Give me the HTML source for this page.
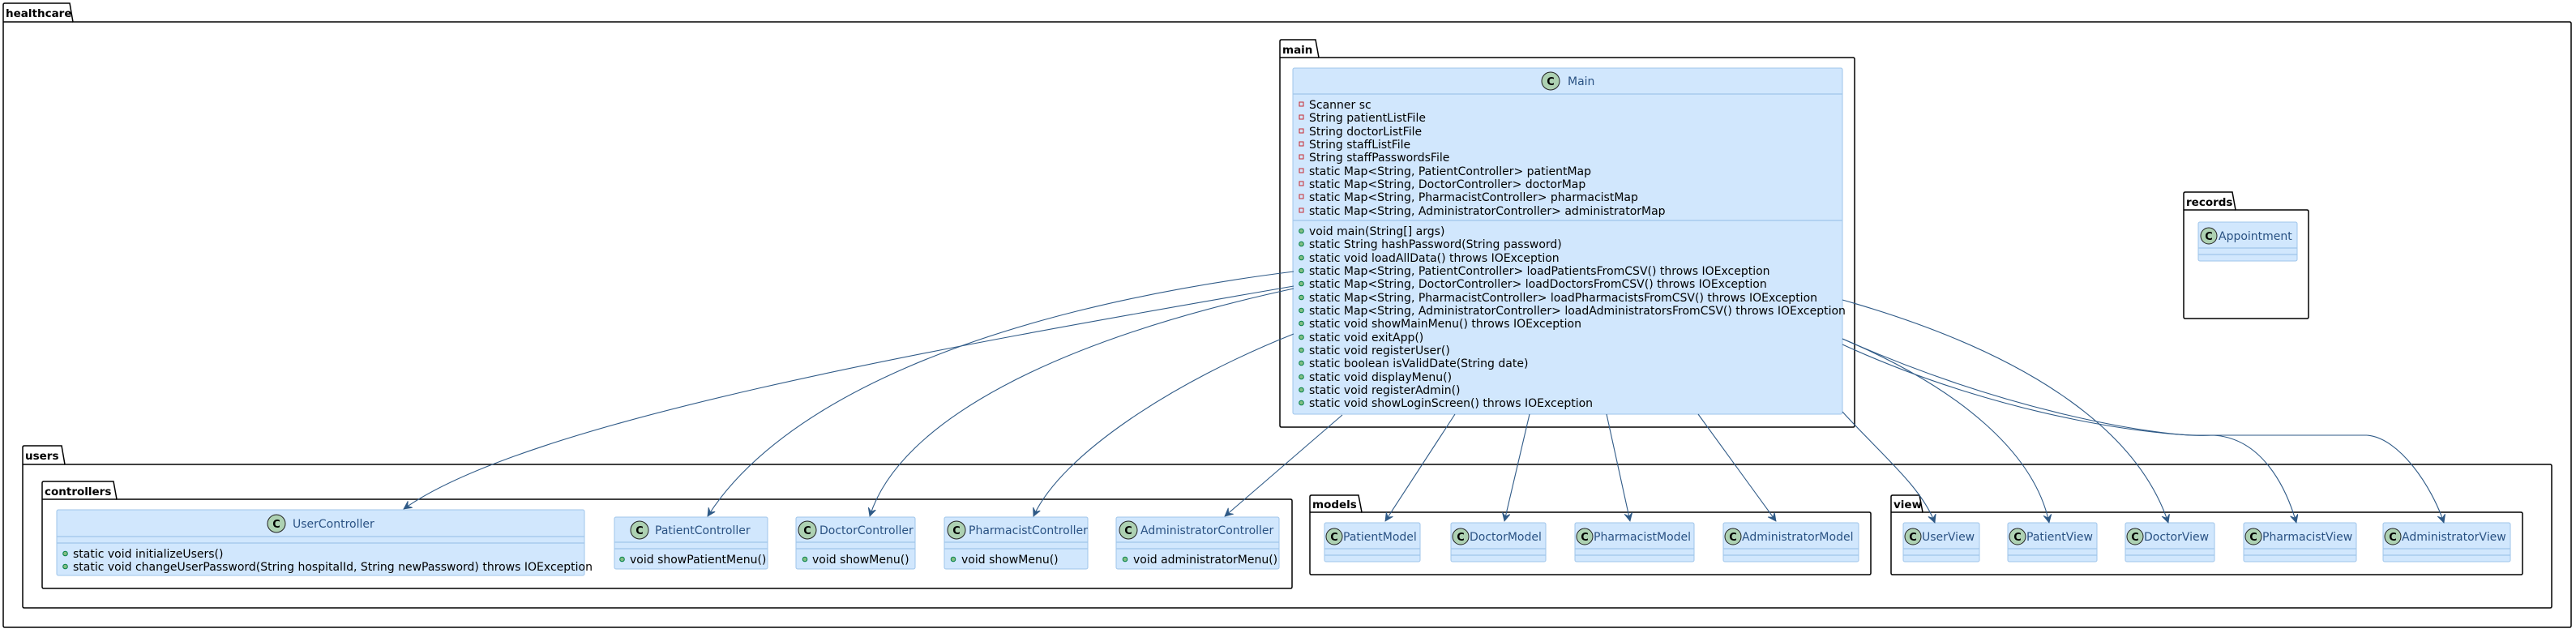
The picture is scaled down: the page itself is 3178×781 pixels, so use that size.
<!DOCTYPE html>
<html><head><meta charset="utf-8"><style>
html,body{margin:0;padding:0;background:#fff;}
svg{display:block;}
text{font-family:"DejaVu Sans","Liberation Sans",sans-serif;}
.pk{font-weight:bold;font-size:13.5px;fill:#000;}
.cn{font-size:14px;fill:#2a5283;}
.t{font-size:14px;fill:#000;}
.box{fill:#d1e7fd;stroke:#9fc5ea;stroke-width:1;}
.sep{stroke:#9fc5ea;stroke-width:1.2;}
.pkg{fill:none;stroke:#000;stroke-width:1.5;}
.ar{fill:none;stroke:#2f5a87;stroke-width:1.1;}
.ci{fill:#add1b2;stroke:#222;stroke-width:1;}
.cl{font-weight:bold;font-size:13px;fill:#000;}
.pr{fill:none;stroke:#c82930;stroke-width:1;}
.pu{fill:#84be84;stroke:#038048;stroke-width:1;}
</style></head><body>
<svg width="3178" height="781" viewBox="0 0 3178 781" xmlns="http://www.w3.org/2000/svg">
<defs>
<marker id="ah" markerWidth="12" markerHeight="12" refX="10" refY="5" orient="auto" markerUnits="userSpaceOnUse">
<path d="M0,0 L10,5 L0,10 L4,5 Z" fill="#2f5a87" stroke="#2f5a87" stroke-width="0.8"/>
</marker>
</defs>

<!-- healthcare -->
<path class="pkg" d="M4,27 L4,6 Q4,4 6,4 L86,4 L90,27 L3170,27 Q3172,27 3172,29 L3172,772 Q3172,774 3170,774 L6,774 Q4,774 4,772 Z"/>
<line class="pkg" x1="4" y1="27" x2="90" y2="27"/>
<text class="pk" x="7" y="21">healthcare</text>

<!-- main pkg -->
<path class="pkg" d="M1579,71 L1579,51 Q1579,49 1581,49 L1623,49 L1627,71 L2286,71 Q2288,71 2288,73 L2288,525 Q2288,527 2286,527 L1581,527 Q1579,527 1579,525 Z"/>
<line class="pkg" x1="1579" y1="71" x2="1627" y2="71"/>
<text class="pk" x="1582" y="66">main</text>

<!-- Main class -->
<rect class="box" x="1595" y="84" width="678" height="427" rx="2"/>
<line class="sep" x1="1595" y1="116" x2="2273" y2="116"/>
<line class="sep" x1="1595" y1="272" x2="2273" y2="272"/>
<circle class="ci" cx="1913" cy="100" r="11"/>
<text class="cl" x="1913" y="105" text-anchor="middle">C</text>
<text class="cn" x="1934" y="105">Main</text>
<g>
<rect class="pr" x="1603" y="126" width="5" height="5"/><text class="t" x="1615" y="134">Scanner sc</text>
<rect class="pr" x="1603" y="142" width="5" height="5"/><text class="t" x="1615" y="150">String patientListFile</text>
<rect class="pr" x="1603" y="159" width="5" height="5"/><text class="t" x="1615" y="167">String doctorListFile</text>
<rect class="pr" x="1603" y="175" width="5" height="5"/><text class="t" x="1615" y="183">String staffListFile</text>
<rect class="pr" x="1603" y="191" width="5" height="5"/><text class="t" x="1615" y="199">String staffPasswordsFile</text>
<rect class="pr" x="1603" y="208" width="5" height="5"/><text class="t" x="1615" y="216">static Map&lt;String, PatientController&gt; patientMap</text>
<rect class="pr" x="1603" y="224" width="5" height="5"/><text class="t" x="1615" y="232">static Map&lt;String, DoctorController&gt; doctorMap</text>
<rect class="pr" x="1603" y="240" width="5" height="5"/><text class="t" x="1615" y="248">static Map&lt;String, PharmacistController&gt; pharmacistMap</text>
<rect class="pr" x="1603" y="257" width="5" height="5"/><text class="t" x="1615" y="265">static Map&lt;String, AdministratorController&gt; administratorMap</text>
</g>
<g>
<circle class="pu" cx="1605.5" cy="285" r="2.8"/><text class="t" x="1615" y="290">void main(String[] args)</text>
<circle class="pu" cx="1605.5" cy="301" r="2.8"/><text class="t" x="1615" y="306">static String hashPassword(String password)</text>
<circle class="pu" cx="1605.5" cy="318" r="2.8"/><text class="t" x="1615" y="323">static void loadAllData() throws IOException</text>
<circle class="pu" cx="1605.5" cy="334" r="2.8"/><text class="t" x="1615" y="339">static Map&lt;String, PatientController&gt; loadPatientsFromCSV() throws IOException</text>
<circle class="pu" cx="1605.5" cy="350" r="2.8"/><text class="t" x="1615" y="355">static Map&lt;String, DoctorController&gt; loadDoctorsFromCSV() throws IOException</text>
<circle class="pu" cx="1605.5" cy="367" r="2.8"/><text class="t" x="1615" y="372">static Map&lt;String, PharmacistController&gt; loadPharmacistsFromCSV() throws IOException</text>
<circle class="pu" cx="1605.5" cy="383" r="2.8"/><text class="t" x="1615" y="388">static Map&lt;String, AdministratorController&gt; loadAdministratorsFromCSV() throws IOException</text>
<circle class="pu" cx="1605.5" cy="399" r="2.8"/><text class="t" x="1615" y="404">static void showMainMenu() throws IOException</text>
<circle class="pu" cx="1605.5" cy="416" r="2.8"/><text class="t" x="1615" y="421">static void exitApp()</text>
<circle class="pu" cx="1605.5" cy="432" r="2.8"/><text class="t" x="1615" y="437">static void registerUser()</text>
<circle class="pu" cx="1605.5" cy="448" r="2.8"/><text class="t" x="1615" y="453">static boolean isValidDate(String date)</text>
<circle class="pu" cx="1605.5" cy="465" r="2.8"/><text class="t" x="1615" y="470">static void displayMenu()</text>
<circle class="pu" cx="1605.5" cy="481" r="2.8"/><text class="t" x="1615" y="486">static void registerAdmin()</text>
<circle class="pu" cx="1605.5" cy="497" r="2.8"/><text class="t" x="1615" y="502">static void showLoginScreen() throws IOException</text>
</g>

<!-- records -->
<path class="pkg" d="M2694,259 L2694,239 Q2694,237 2696,237 L2754,237 L2758,259 L2846,259 Q2848,259 2848,261 L2848,391 Q2848,393 2846,393 L2696,393 Q2694,393 2694,391 Z"/>
<line class="pkg" x1="2694" y1="259" x2="2758" y2="259"/>
<text class="pk" x="2697" y="254">records</text>
<rect class="box" x="2712" y="274" width="122" height="48" rx="2"/>
<line class="sep" x1="2712" y1="306" x2="2834" y2="306"/>
<line class="sep" x1="2712" y1="314" x2="2834" y2="314"/>
<circle class="ci" cx="2725" cy="291" r="10"/><text class="cl" x="2725" y="296" text-anchor="middle">C</text>
<text class="cn" x="2737" y="296">Appointment</text>

<!-- users -->
<path class="pkg" d="M28,573 L28,552 Q28,550 30,550 L76,550 L80,573 L3146,573 Q3148,573 3148,575 L3148,748 Q3148,750 3146,750 L30,750 Q28,750 28,748 Z"/>
<line class="pkg" x1="28" y1="573" x2="80" y2="573"/>
<text class="pk" x="31" y="567">users</text>

<!-- controllers -->
<path class="pkg" d="M52,616 L52,596 Q52,594 54,594 L140,594 L144,616 L1592,616 Q1594,616 1594,618 L1594,724 Q1594,726 1592,726 L54,726 Q52,726 52,724 Z"/>
<line class="pkg" x1="52" y1="616" x2="144" y2="616"/>
<text class="pk" x="55" y="611">controllers</text>

<rect class="box" x="70" y="629" width="651" height="81" rx="2"/>
<line class="sep" x1="70" y1="662" x2="721" y2="662"/>
<line class="sep" x1="70" y1="670" x2="721" y2="670"/>
<circle class="ci" cx="341" cy="646" r="11"/><text class="cl" x="341" y="651" text-anchor="middle">C</text>
<text class="cn" x="361" y="651">UserController</text>
<circle class="pu" cx="80.5" cy="683" r="2.8"/><text class="t" x="90" y="688">static void initializeUsers()</text>
<circle class="pu" cx="80.5" cy="699" r="2.8"/><text class="t" x="90" y="704">static void changeUserPassword(String hospitalId, String newPassword) throws IOException</text>

<rect class="box" x="758" y="638" width="189" height="64" rx="2"/>
<line class="sep" x1="758" y1="669" x2="947" y2="669"/><line class="sep" x1="758" y1="677" x2="947" y2="677"/>
<circle class="ci" cx="789" cy="654" r="11"/><text class="cl" x="789" y="659" text-anchor="middle">C</text>
<text class="cn" x="808" y="659">PatientController</text>
<circle class="pu" cx="767.5" cy="690" r="2.8"/><text class="t" x="777" y="695">void showPatientMenu()</text>

<rect class="box" x="982" y="638" width="147" height="64" rx="2"/>
<line class="sep" x1="982" y1="669" x2="1129" y2="669"/><line class="sep" x1="982" y1="677" x2="1129" y2="677"/>
<circle class="ci" cx="996" cy="654" r="11"/><text class="cl" x="996" y="659" text-anchor="middle">C</text>
<text class="cn" x="1011" y="659">DoctorController</text>
<circle class="pu" cx="993" cy="690" r="2.8"/><text class="t" x="1002" y="695">void showMenu()</text>

<rect class="box" x="1165" y="638" width="177" height="64" rx="2"/>
<line class="sep" x1="1165" y1="669" x2="1342" y2="669"/><line class="sep" x1="1165" y1="677" x2="1342" y2="677"/>
<circle class="ci" cx="1180" cy="654" r="11"/><text class="cl" x="1180" y="659" text-anchor="middle">C</text>
<text class="cn" x="1195" y="659">PharmacistController</text>
<circle class="pu" cx="1176" cy="690" r="2.8"/><text class="t" x="1186" y="695">void showMenu()</text>

<rect class="box" x="1377" y="638" width="201" height="64" rx="2"/>
<line class="sep" x1="1377" y1="669" x2="1578" y2="669"/><line class="sep" x1="1377" y1="677" x2="1578" y2="677"/>
<circle class="ci" cx="1392" cy="654" r="11"/><text class="cl" x="1392" y="659" text-anchor="middle">C</text>
<text class="cn" x="1407" y="659">AdministratorController</text>
<circle class="pu" cx="1388" cy="690" r="2.8"/><text class="t" x="1398" y="695">void administratorMenu()</text>

<!-- models -->
<path class="pkg" d="M1616,632 L1616,613 Q1616,611 1618,611 L1676,611 L1680,632 L2306,632 Q2308,632 2308,634 L2308,707 Q2308,709 2306,709 L1618,709 Q1616,709 1616,707 Z"/>
<line class="pkg" x1="1616" y1="632" x2="1680" y2="632"/>
<text class="pk" x="1619" y="627">models</text>
<g>
<rect class="box" x="1634" y="645" width="118" height="48" rx="2"/>
<line class="sep" x1="1634" y1="677" x2="1752" y2="677"/><line class="sep" x1="1634" y1="685" x2="1752" y2="685"/>
<circle class="ci" cx="1646" cy="662" r="10"/><text class="cl" x="1646" y="667" text-anchor="middle">C</text>
<text class="cn" x="1657" y="667">PatientModel</text>

<rect class="box" x="1790" y="645" width="117" height="48" rx="2"/>
<line class="sep" x1="1790" y1="677" x2="1907" y2="677"/><line class="sep" x1="1790" y1="685" x2="1907" y2="685"/>
<circle class="ci" cx="1802" cy="662" r="10"/><text class="cl" x="1802" y="667" text-anchor="middle">C</text>
<text class="cn" x="1813" y="667">DoctorModel</text>

<rect class="box" x="1943" y="645" width="147" height="48" rx="2"/>
<line class="sep" x1="1943" y1="677" x2="2090" y2="677"/><line class="sep" x1="1943" y1="685" x2="2090" y2="685"/>
<circle class="ci" cx="1955" cy="662" r="10"/><text class="cl" x="1955" y="667" text-anchor="middle">C</text>
<text class="cn" x="1966" y="667">PharmacistModel</text>

<rect class="box" x="2126" y="645" width="167" height="48" rx="2"/>
<line class="sep" x1="2126" y1="677" x2="2293" y2="677"/><line class="sep" x1="2126" y1="685" x2="2293" y2="685"/>
<circle class="ci" cx="2138" cy="662" r="10"/><text class="cl" x="2138" y="667" text-anchor="middle">C</text>
<text class="cn" x="2149" y="667">AdministratorModel</text>
</g>

<!-- view -->
<path class="pkg" d="M2333,632 L2333,613 Q2333,611 2335,611 L2368,611 L2372,632 L3110,632 Q3112,632 3112,634 L3112,707 Q3112,709 3110,709 L2335,709 Q2333,709 2333,707 Z"/>
<line class="pkg" x1="2333" y1="632" x2="2372" y2="632"/>
<text class="pk" x="2336" y="627">view</text>
<g>
<rect class="box" x="2348" y="645" width="94" height="48" rx="2"/>
<line class="sep" x1="2348" y1="677" x2="2442" y2="677"/><line class="sep" x1="2348" y1="685" x2="2442" y2="685"/>
<circle class="ci" cx="2360" cy="662" r="10"/><text class="cl" x="2360" y="667" text-anchor="middle">C</text>
<text class="cn" x="2371" y="667">UserView</text>

<rect class="box" x="2477" y="645" width="110" height="48" rx="2"/>
<line class="sep" x1="2477" y1="677" x2="2587" y2="677"/><line class="sep" x1="2477" y1="685" x2="2587" y2="685"/>
<circle class="ci" cx="2489" cy="662" r="10"/><text class="cl" x="2489" y="667" text-anchor="middle">C</text>
<text class="cn" x="2500" y="667">PatientView</text>

<rect class="box" x="2622" y="645" width="110" height="48" rx="2"/>
<line class="sep" x1="2622" y1="677" x2="2732" y2="677"/><line class="sep" x1="2622" y1="685" x2="2732" y2="685"/>
<circle class="ci" cx="2634" cy="662" r="10"/><text class="cl" x="2634" y="667" text-anchor="middle">C</text>
<text class="cn" x="2645" y="667">DoctorView</text>

<rect class="box" x="2768" y="645" width="139" height="48" rx="2"/>
<line class="sep" x1="2768" y1="677" x2="2907" y2="677"/><line class="sep" x1="2768" y1="685" x2="2907" y2="685"/>
<circle class="ci" cx="2780" cy="662" r="10"/><text class="cl" x="2780" y="667" text-anchor="middle">C</text>
<text class="cn" x="2791" y="667">PharmacistView</text>

<rect class="box" x="2940" y="645" width="157" height="48" rx="2"/>
<line class="sep" x1="2940" y1="677" x2="3097" y2="677"/><line class="sep" x1="2940" y1="685" x2="3097" y2="685"/>
<circle class="ci" cx="2952" cy="662" r="10"/><text class="cl" x="2952" y="667" text-anchor="middle">C</text>
<text class="cn" x="2963" y="667">AdministratorView</text>
</g>

<!-- arrows -->
<g>
<path class="ar" marker-end="url(#ah)" d="M1596,353 C1150,430 650,520 498,628"/>
<path class="ar" marker-end="url(#ah)" d="M1596,335 C1200,385 960,500 873,637"/>
<path class="ar" marker-end="url(#ah)" d="M1596,356 C1300,420 1110,520 1073,637"/>
<path class="ar" marker-end="url(#ah)" d="M1596,412 C1450,470 1310,560 1275,637"/>
<path class="ar" marker-end="url(#ah)" d="M1656,512 L1511,637"/>
<path class="ar" marker-end="url(#ah)" d="M1795,511 L1709,643"/>
<path class="ar" marker-end="url(#ah)" d="M1887,511 L1856,643"/>
<path class="ar" marker-end="url(#ah)" d="M1982,511 L2011,643"/>
<path class="ar" marker-end="url(#ah)" d="M2095,511 L2191,643"/>
<path class="ar" marker-end="url(#ah)" d="M2273,508 C2320,560 2370,600 2387,645"/>
<path class="ar" marker-end="url(#ah)" d="M2273,418 C2420,480 2510,560 2528,645"/>
<path class="ar" marker-end="url(#ah)" d="M2273,370 C2520,440 2640,540 2675,645"/>
<path class="ar" marker-end="url(#ah)" d="M2273,425 C2480,520 2680,540 2730,537 C2790,540 2820,600 2833,645"/>
<path class="ar" marker-end="url(#ah)" d="M2273,418 C2480,510 2660,537 2710,537 L2920,537 C2960,540 3000,600 3015,645"/>
</g>
</svg>
</body></html>
